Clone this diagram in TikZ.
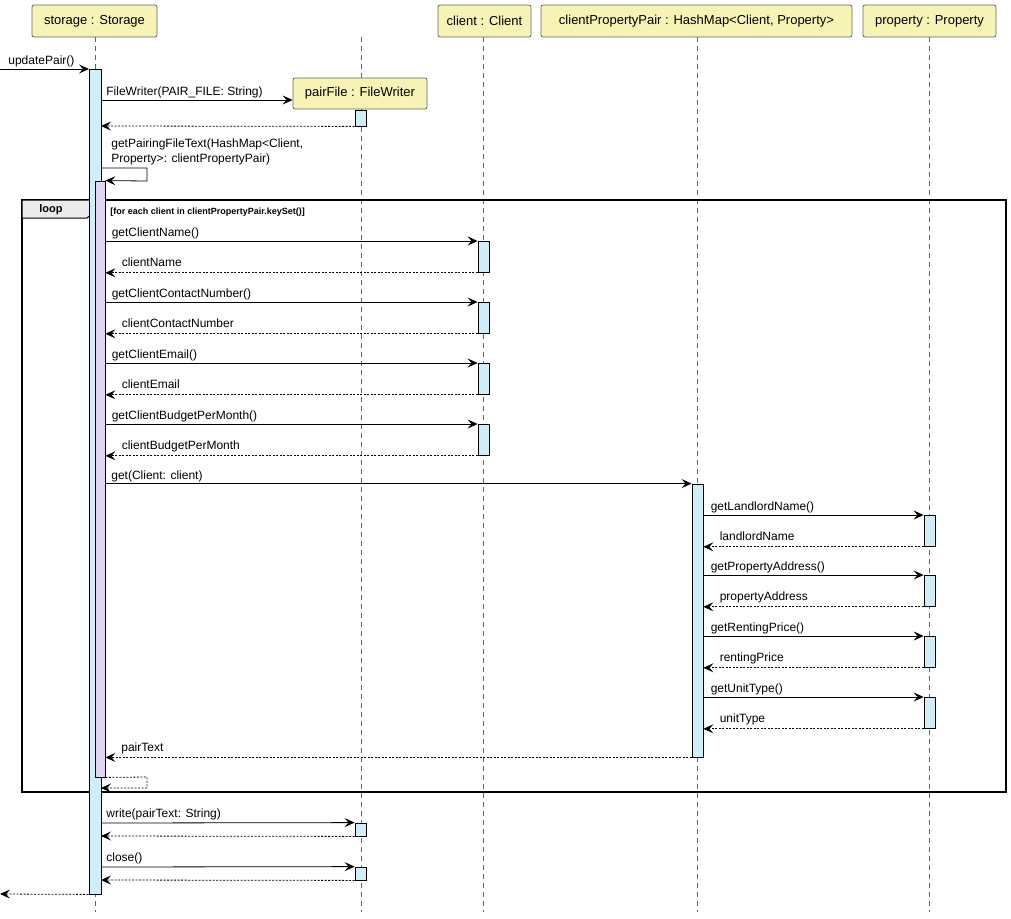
\documentclass[tikz,border=0pt]{standalone}
\usepackage{fontspec}
\setmainfont{Liberation Sans}
\usetikzlibrary{arrows.meta}
\begin{document}
\begin{tikzpicture}[x=1pt,y=-1pt,line width=0.8pt,
  part/.style={draw=black!60,fill=cYel,rounded corners=2pt,font=\fontsize{13}{15}\selectfont,inner sep=0pt},
  life/.style={draw=black!60,line width=0.6pt,dash pattern=on 5pt off 4pt},
  act/.style={draw=black,fill=cBlue},
  actp/.style={draw=black,fill=cPurp},
  msg/.style={-{Stealth[length=10pt,width=9pt,inset=4pt]},black},
  ret/.style={msg,dash pattern=on 2pt off 1.5pt},
  lbl/.style={font=\fontsize{12}{14}\selectfont,anchor=base west,inner sep=0pt}]
\definecolor{cYel}{HTML}{F6F3B5}
\definecolor{cBlue}{HTML}{D0EEF7}
\definecolor{cPurp}{HTML}{E2D5F3}
\useasboundingbox (0,0) rectangle (1011,918);
% lifelines
\foreach \x in {95,361,483,697,929} \draw[life] (\x,37) -- (\x,912);
% headers
\node[part,minimum width=125pt,minimum height=32pt] (sto) at (94.5,21) {storage : Storage};
\node[part,minimum width=93pt,minimum height=32pt] (cli) at (484.5,21) {client : Client};
\node[part,minimum width=311pt,minimum height=32pt] (cpp) at (696.5,21) {clientPropertyPair : HashMap<Client, Property>};
\node[part,minimum width=133pt,minimum height=32pt] (pro) at (929.5,21) {property : Property};
\node[part,minimum width=134pt,minimum height=31pt] (pf) at (360,93.5) {pairFile : FileWriter};
% loop frame
\draw[line width=1.3pt] (22,200) rectangle (1006,792);
\draw[fill=black!8,line width=1pt] (22,200) -- (95,200) -- (95,211) -- (87,218) -- (22,218) -- cycle;
\node[font=\bfseries\fontsize{11}{13}\selectfont] (lp) at (51,210) {loop};
\node[lbl,font=\bfseries\fontsize{9}{11}\selectfont] (cond) at (110,214) {[for each client in clientPropertyPair.keySet()]};
% activations
\node[act,inner sep=0pt,minimum width=12pt,minimum height=825pt] (aS) at (95,481.5) {};
\node[actp,inner sep=0pt,minimum width=10pt,minimum height=596pt] (aP) at (100,479) {};
\node[act,inner sep=0pt,minimum width=11pt,minimum height=16pt] (f1) at (360.5,118) {};
\node[act,inner sep=0pt,minimum width=11pt,minimum height=13pt] (f2) at (360.5,829.5) {};
\node[act,inner sep=0pt,minimum width=11pt,minimum height=13pt] (f3) at (360.5,873.5) {};
\node[act,inner sep=0pt,minimum width=11pt,minimum height=273pt] (aC) at (697.5,620.5) {};
\foreach \y/\n in {241/1,302/2,363/3,424/4}
  \node[act,inner sep=0pt,minimum width=11pt,minimum height=31pt,anchor=north] (c\n) at (483.5,\y) {};
\foreach \y/\n in {515/1,575/2,636/3,697/4}
  \node[act,inner sep=0pt,minimum width=11pt,minimum height=31pt,anchor=north] (p\n) at (929.5,\y) {};
% coordinates
\coordinate (in0) at (0,69); \coordinate (out0) at (0,894);
% messages
\draw[msg] (in0) -- (89,69) coordinate (e0);
\node[lbl] (m0) at (8,64) {updatePair()};
\draw[msg] (101,100) -- (pf.west|-0,100);
\node[lbl] (m1) at (106,95) {FileWriter(PAIR\_FILE: String)};
\draw[ret] (f1.south west) -- (101,126);
\node[lbl] (m2) at (111,147) {getPairingFileText(HashMap<Client,};
\node[lbl] (m3) at (111,162) {Property>: clientPropertyPair)};
\draw[msg] (101,168) -- (147,168) -- (147,181) -- (aP.north east);
\foreach \n/\t/\r in {1/getClientName()/clientName,2/getClientContactNumber()/clientContactNumber,3/getClientEmail()/clientEmail,4/getClientBudgetPerMonth()/clientBudgetPerMonth}{
  \draw[msg] (aP.east|-c\n.north) -- (c\n.north west);
  \node[lbl] at ([xshift=6pt,yshift=5pt]aP.east|-c\n.north) {\t};
  \draw[ret] (c\n.south west) -- (aP.east|-c\n.south);
  \node[lbl] at ([xshift=16pt,yshift=6pt]aP.east|-c\n.south) {\r};
}
\draw[msg] (aP.east|-aC.north) -- (aC.north west);
\node[lbl] (m4) at (111,479) {get(Client: client)};
\foreach \n/\t/\r in {1/getLandlordName()/landlordName,2/getPropertyAddress()/propertyAddress,3/getRentingPrice()/rentingPrice,4/getUnitType()/unitType}{
  \draw[msg] (aC.east|-p\n.north) -- (p\n.north west);
  \node[lbl] at ([xshift=7pt,yshift=5pt]aC.east|-p\n.north) {\t};
  \draw[ret] (p\n.south west) -- (aC.east|-p\n.south);
  \node[lbl] at ([xshift=16pt,yshift=6pt]aC.east|-p\n.south) {\r};
}
\draw[ret] (aC.south west) -- (aP.east|-aC.south);
\node[lbl] (m5) at (121,751) {pairText};
\draw[ret] (aP.south east) -- (147,777) -- (147,788) -- (101,788);
\draw[msg] (101,823) -- (f2.north west);
\node[lbl] (m6) at (106,817) {write(pairText: String)};
\draw[ret] (f2.south west) -- (101,836);
\draw[msg] (101,867) -- (f3.north west);
\node[lbl] (m7) at (106,861) {close()};
\draw[ret] (f3.south west) -- (101,880);
\draw[ret] (aS.south west) -- (out0);
\end{tikzpicture}
\end{document}
